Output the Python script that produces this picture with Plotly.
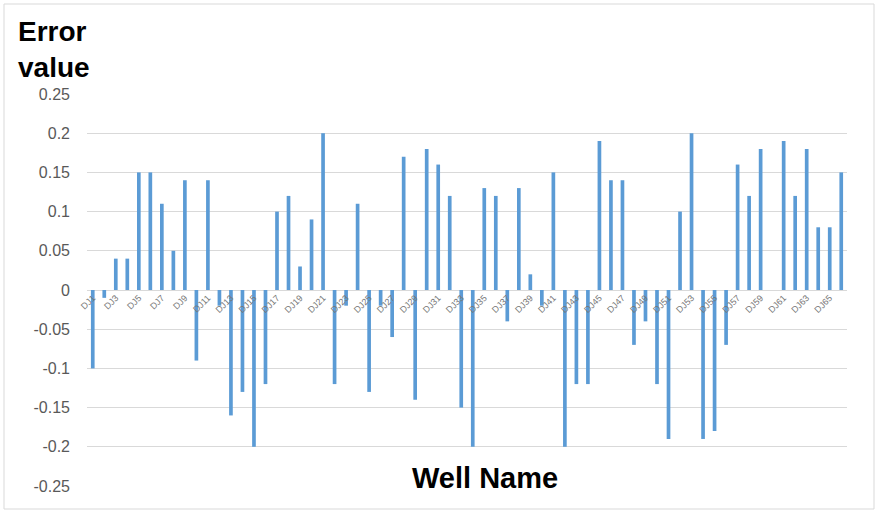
import plotly.graph_objects as go

# Well names and their error values
wells = [f"DJ{i}" for i in range(1, 67)]
errors = [
    -0.10, -0.01, 0.04, 0.04, 0.15, 0.15, 0.11, 0.05, 0.14, -0.09,
    0.14, -0.02, -0.16, -0.13, -0.20, -0.12, 0.10, 0.12, 0.03, 0.09,
    0.20, -0.12, -0.02, 0.11, -0.13, -0.02, -0.06, 0.17, -0.14, 0.18,
    0.16, 0.12, -0.15, -0.20, 0.13, 0.12, -0.04, 0.13, 0.02, -0.02,
    0.15, -0.20, -0.12, -0.12, 0.19, 0.14, 0.14, -0.07, -0.04, -0.12,
    -0.19, 0.10, 0.20, -0.19, -0.18, -0.07, 0.16, 0.12, 0.18, 0.00,
    0.19, 0.12, 0.18, 0.08, 0.08, 0.15,
]

# Axis ticks
y_tickvals = [0.25, 0.2, 0.15, 0.1, 0.05, 0, -0.05, -0.1, -0.15, -0.2, -0.25]
y_ticktext = ["0.25", "0.2", "0.15", "0.1", "0.05", "0", "-0.05", "-0.1", "-0.15", "-0.2", "-0.25"]
x_tickvals = wells[::2]

W, H = 875, 512
ML, MR, MT, MB = 87, 28, 94, 26
PW, PH = W - ML - MR, H - MT - MB


def px_x(p):
    return (p - ML) / PW


def px_y(p):
    return (H - MB - p) / PH


fig = go.Figure(
    go.Bar(
        x=wells,
        y=errors,
        marker=dict(color="#5b9bd5", line=dict(width=0)),
    )
)

fig.update_layout(
    width=W,
    height=H,
    margin=dict(l=ML, r=MR, t=MT, b=MB),
    paper_bgcolor="white",
    plot_bgcolor="white",
    bargap=0.68,
    showlegend=False,
    font=dict(family="Liberation Sans, Arial, sans-serif"),
    # Category axis crosses the value axis at zero (middle of the plot)
    xaxis=dict(
        type="category",
        range=[-0.5, len(wells) - 0.5],
        autorange=False,
        anchor="free",
        position=0.5,
        showgrid=False,
        showline=False,
        ticks="",
        tickvals=x_tickvals,
        ticktext=x_tickvals,
        tickangle=-45,
        tickfont=dict(size=9, color="#767676"),
    ),
    yaxis=dict(
        range=[-0.25, 0.25],
        tickvals=y_tickvals,
        ticktext=y_ticktext,
        showgrid=True,
        gridcolor="#d9d9d9",
        gridwidth=1,
        zeroline=True,
        zerolinecolor="#d9d9d9",
        zerolinewidth=1,
        showline=False,
        ticks="",
        ticklabelstandoff=16,
        tickfont=dict(size=16, color="#595959"),
    ),
    annotations=[
        dict(
            text="<b>Error<br>value</b>",
            xref="paper", yref="paper",
            x=px_x(16), y=px_y(14),
            xanchor="left", yanchor="top",
            align="left",
            showarrow=False,
            font=dict(size=28, color="black"),
        ),
        dict(
            text="<b>Well Name</b>",
            xref="paper", yref="paper",
            x=px_x(485), y=px_y(478),
            xanchor="center", yanchor="middle",
            showarrow=False,
            bgcolor="white",
            borderpad=2,
            font=dict(size=29, color="black"),
        ),
    ],
    shapes=[
        dict(
            type="rect",
            xref="paper", yref="paper",
            x0=px_x(4), x1=px_x(874),
            y0=px_y(509), y1=px_y(4),
            line=dict(color="#d9d9d9", width=1),
            fillcolor="rgba(0,0,0,0)",
            layer="below",
        )
    ],
)

fig.write_html("out.html")
